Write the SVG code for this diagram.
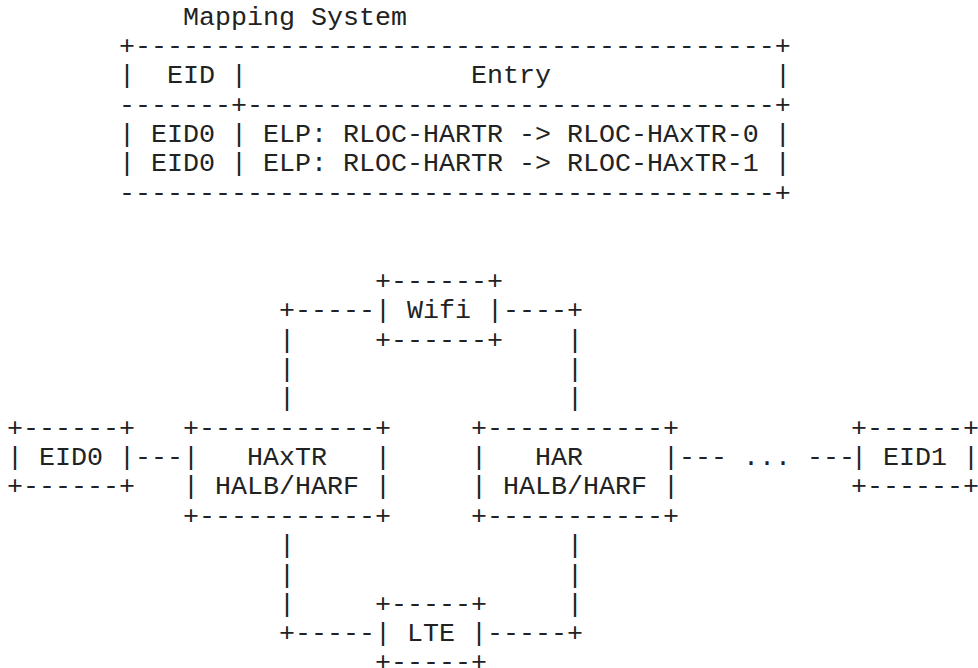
<svg xmlns="http://www.w3.org/2000/svg" width="978" height="668" viewBox="0 0 978 668" xml:space="preserve">
  <style>
    /* monospace grid: 16px per column, ~29.37px per row */
    text { font-family: "Liberation Mono", "Courier New", monospace; font-size: 26.667px; fill: #222; white-space: pre; }
  </style>
  <rect width="978" height="668" fill="#fff"/>

  <!-- mapping system table -->
  <g id="mapping-system">
    <text x="183" y="24.5">Mapping System</text>
    <text x="119" y="53.9">+----------------------------------------+</text>
    <text x="119" y="83.2">|</text>
    <text x="167" y="83.2">EID</text>
    <text x="231" y="83.2">|</text>
    <text x="471" y="83.2">Entry</text>
    <text x="775" y="83.2">|</text>
    <text x="119" y="112.6">-------+---------------------------------+</text>
    <text x="119" y="142.0">| EID0 | ELP: RLOC-HARTR -&gt; RLOC-HAxTR-0 |</text>
    <text x="119" y="171.4">| EID0 | ELP: RLOC-HARTR -&gt; RLOC-HAxTR-1 |</text>
    <text x="119" y="200.7">-----------------------------------------+</text>
  </g>

  <!-- nodes -->
  <g id="wifi">
    <text x="375" y="288.8">+------+</text>
    <text x="375" y="318.2">| Wifi |</text>
    <text x="375" y="347.6">+------+</text>
  </g>
  <g id="eid0">
    <text x="7" y="435.7">+------+</text>
    <text x="7" y="465.1">| EID0 |</text>
    <text x="7" y="494.4">+------+</text>
  </g>
  <g id="haxtr">
    <text x="183" y="435.7">+-----------+</text>
    <text x="183" y="465.1">|   HAxTR   |</text>
    <text x="183" y="494.4">| HALB/HARF |</text>
    <text x="183" y="523.8">+-----------+</text>
  </g>
  <g id="har">
    <text x="471" y="435.7">+-----------+</text>
    <text x="471" y="465.1">|   HAR     |</text>
    <text x="471" y="494.4">| HALB/HARF |</text>
    <text x="471" y="523.8">+-----------+</text>
  </g>
  <!-- sits flush against the right edge of the canvas -->
  <g id="eid1">
    <text x="851" y="435.7">+------+</text>
    <text x="851" y="465.1">| EID1 |</text>
    <text x="851" y="494.4">+------+</text>
  </g>
  <!-- last grid row; its '+' and '-' glyphs sit well above the baseline -->
  <g id="lte">
    <text x="375" y="611.9">+-----+</text>
    <text x="375" y="641.3">| LTE |</text>
    <text x="375" y="669.5">+-----+</text>
  </g>

  <!-- connectors -->
  <g id="connectors">
    <!-- Wifi loop -->
    <text x="279" y="318.2">+-----</text>
    <text x="503" y="318.2">----+</text>
    <text x="279" y="347.6">|</text>
    <text x="567" y="347.6">|</text>
    <text x="279" y="376.9">|</text>
    <text x="567" y="376.9">|</text>
    <text x="279" y="406.3">|</text>
    <text x="567" y="406.3">|</text>
    <!-- horizontal links -->
    <text x="135" y="465.1">---</text>
    <text x="679" y="465.1">--- ... ---</text>
    <!-- LTE loop -->
    <text x="279" y="553.2">|</text>
    <text x="567" y="553.2">|</text>
    <text x="279" y="582.5">|</text>
    <text x="567" y="582.5">|</text>
    <text x="279" y="611.9">|</text>
    <text x="567" y="611.9">|</text>
    <text x="279" y="641.3">+-----</text>
    <text x="487" y="641.3">-----+</text>
  </g>
</svg>
